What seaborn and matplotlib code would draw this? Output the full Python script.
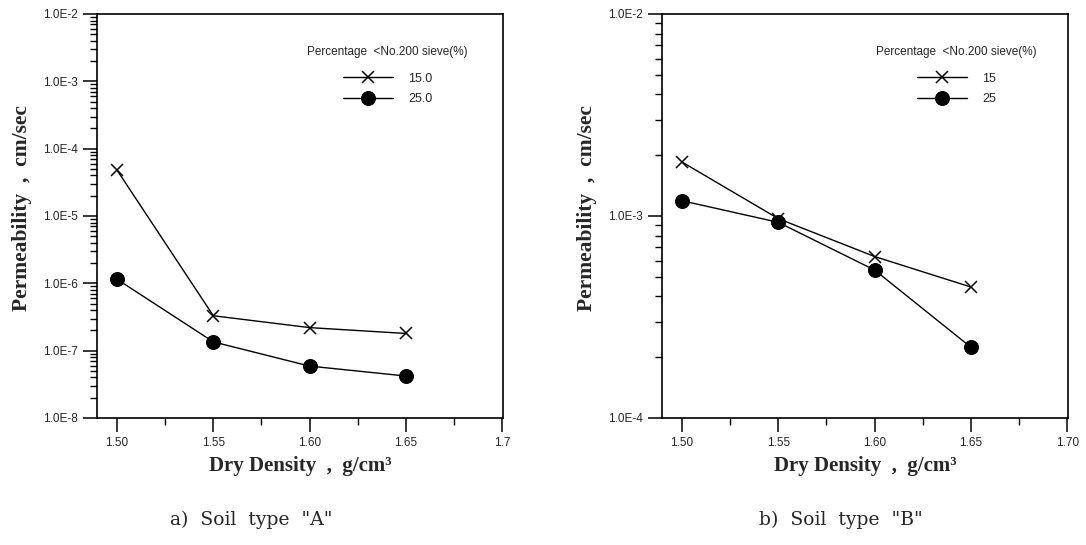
import matplotlib
matplotlib.use("Agg")
import matplotlib.pyplot as plt
import numpy as np
import pandas as pd
import seaborn as sns
from matplotlib.ticker import FixedLocator, FixedFormatter, NullFormatter, LogLocator

# ---------------- data ----------------
density = [1.50, 1.55, 1.60, 1.65]
a_15 = [4.8e-5, 3.3e-7, 2.2e-7, 1.8e-7]
a_25 = [1.15e-6, 1.35e-7, 5.9e-8, 4.2e-8]
b_15 = [1.85e-3, 9.7e-4, 6.3e-4, 4.45e-4]
b_25 = [1.19e-3, 9.3e-4, 5.4e-4, 2.24e-4]

a_series_labels = ["15.0", "25.0"]
b_series_labels = ["15", "25"]

x_ticks = [1.50, 1.55, 1.60, 1.65, 1.70]
x_minor = [1.525, 1.575, 1.625, 1.675]
a_xticklabels = ["1.50", "1.55", "1.60", "1.65", "1.7"]
b_xticklabels = ["1.50", "1.55", "1.60", "1.65", "1.70"]

a_yticks = [1e-8, 1e-7, 1e-6, 1e-5, 1e-4, 1e-3, 1e-2]
a_yticklabels = ["1.0E-8", "1.0E-7", "1.0E-6", "1.0E-5", "1.0E-4", "1.0E-3", "1.0E-2"]
b_yticks = [1e-4, 1e-3, 1e-2]
b_yticklabels = ["1.0E-4", "1.0E-3", "1.0E-2"]

legend_title = "Percentage  <No.200 sieve(%)"
ylabel = "Permeability  ,  cm/sec"
xlabel = "Dry Density  ,  g/cm³"
captions = ['a)  Soil  type  "A"', 'b)  Soil  type  "B"']

# ---------------- style ----------------
sns.set_style("ticks")
plt.rcParams["font.family"] = ["Liberation Sans", "DejaVu Sans"]
plt.rcParams["axes.linewidth"] = 1.2

fig = plt.figure(figsize=(10.86, 5.45), dpi=100)
W, H = 1086, 545


def make_axes(left_px, right_px, top_px, bottom_px):
    return fig.add_axes([left_px / W, 1 - bottom_px / H,
                         (right_px - left_px) / W, (bottom_px - top_px) / H])


ax_a = make_axes(97, 503, 14, 418)
ax_b = make_axes(662, 1068, 14, 418)

panels = [
    (ax_a, a_15, a_25, a_series_labels, a_xticklabels, a_yticks, a_yticklabels, (1e-8, 1e-2), 0.716),
    (ax_b, b_15, b_25, b_series_labels, b_xticklabels, b_yticks, b_yticklabels, (1e-4, 1e-2), 0.726),
]

for i, (ax, s15, s25, slabels, xtl, yt, ytl, ylim, legx) in enumerate(panels):
    df = pd.DataFrame({"density": density * 2,
                       "k": s15 + s25,
                       "series": [slabels[0]] * 4 + [slabels[1]] * 4})
    sns.lineplot(data=df[df.series == slabels[0]], x="density", y="k", ax=ax,
                 color="black", linewidth=1.0, marker="x", markersize=9,
                 markeredgewidth=1.1, markeredgecolor="black", label=slabels[0])
    sns.lineplot(data=df[df.series == slabels[1]], x="density", y="k", ax=ax,
                 color="black", linewidth=1.0, marker="o", markersize=10,
                 markeredgecolor="black", markerfacecolor="black", label=slabels[1])
    ax.set_yscale("log")
    ax.set_ylim(*ylim)
    ax.set_xlim(1.4896, 1.7004)

    ax.yaxis.set_major_locator(FixedLocator(yt))
    ax.yaxis.set_major_formatter(FixedFormatter(ytl))
    ax.yaxis.set_minor_locator(LogLocator(base=10, subs=np.arange(2, 10), numticks=20))
    ax.yaxis.set_minor_formatter(NullFormatter())
    ax.xaxis.set_major_locator(FixedLocator(x_ticks))
    ax.xaxis.set_major_formatter(FixedFormatter(xtl))
    ax.xaxis.set_minor_locator(FixedLocator(x_minor))

    ax.tick_params(axis="both", which="major", direction="out", length=10, width=1.1,
                   labelsize=8.5, pad=3.5, color="black")
    ax.tick_params(axis="both", which="minor", direction="out", length=5, width=1.0,
                   color="black")
    for sp in ax.spines.values():
        sp.set_visible(True)
        sp.set_color("black")
        sp.set_linewidth(1.2)

    ax.set_ylabel(ylabel, fontfamily="Liberation Serif", fontweight="bold", fontsize=15.5)
    ax.yaxis.set_label_coords(-0.16, 0.52)
    ax.set_xlabel(xlabel, fontfamily="Liberation Serif", fontweight="bold", fontsize=15)
    ax.xaxis.set_label_coords(0.5, -0.095)

    leg = ax.legend(title=legend_title, loc="upper center", bbox_to_anchor=(legx, 0.922),
                    frameon=False, fontsize=9, title_fontsize=8.5, handlelength=4.0,
                    handletextpad=1.2, labelspacing=0.68, borderpad=0, borderaxespad=0)
    leg._legend_box.sep = 11

fig.text(251 / W, 1 - 520 / H, captions[0], ha="center", va="center",
         fontfamily="DejaVu Serif", fontsize=13.5)
fig.text(841 / W, 1 - 520 / H, captions[1], ha="center", va="center",
         fontfamily="DejaVu Serif", fontsize=13.5)

fig.savefig("out.png", dpi=100)
